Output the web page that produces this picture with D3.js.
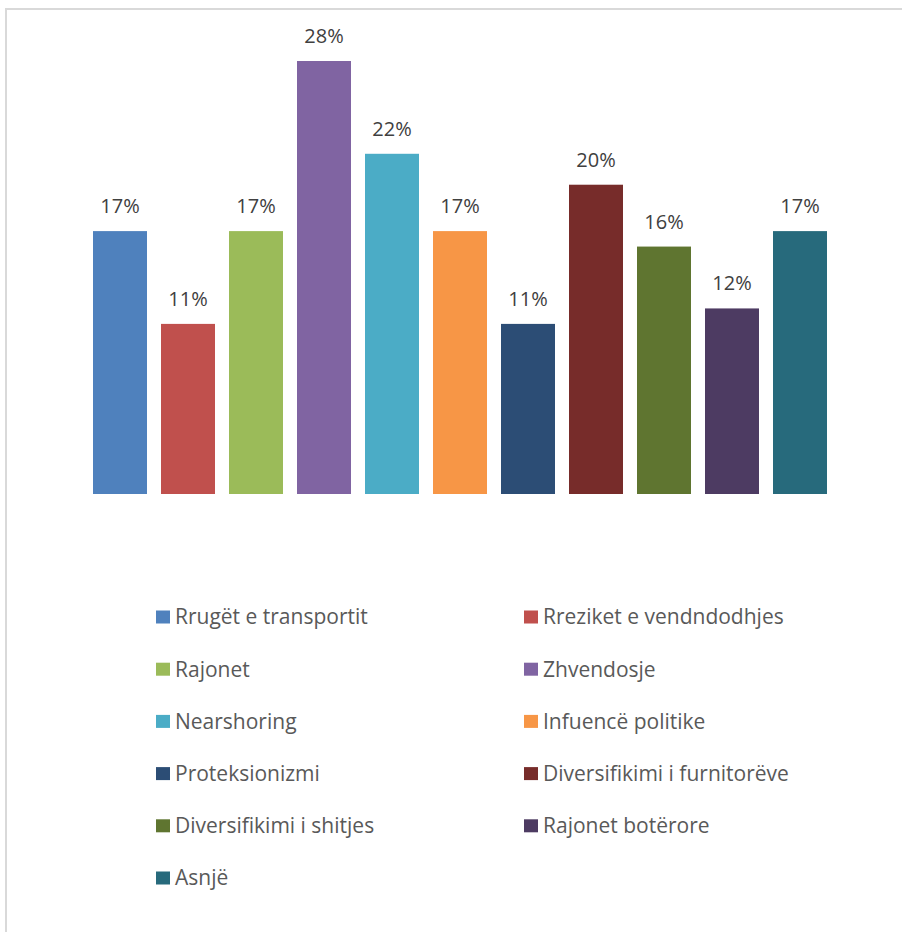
<!DOCTYPE html>
<html><head><meta charset="utf-8">
<script src="https://cdn.jsdelivr.net/npm/d3@7"></script>
<style>html,body{margin:0;padding:0;background:#fff;}svg{display:block;}</style>
</head><body>
<svg id="chart" width="902" height="932"></svg>
<script>
const categories = ["Rrugët e transportit","Rreziket e vendndodhjes","Rajonet","Zhvendosje","Nearshoring","Infuencë politike","Proteksionizmi","Diversifikimi i furnitorëve","Diversifikimi i shitjes","Rajonet botërore","Asnjë"];
const values = [17, 11, 17, 28, 22, 17, 11, 20, 16, 12, 17];
const labels = ["17%","11%","17%","28%","22%","17%","11%","20%","16%","12%","17%"];
const colors = ["#4f81bd","#c0504d","#9bbb59","#8064a2","#4bacc6","#f79646","#2c4d75","#772c2a","#5f7530","#4d3b62","#276a7c"];

const svg = d3.select("#chart");
// outer border
svg.append("rect").attr("x",6).attr("y",9).attr("width",902).attr("height",940)
  .attr("fill","none").attr("stroke","#d9d9d9").attr("stroke-width",2);

const step = 68, bw = 54, x0 = 93 - (step - bw)/2;
const xb = d3.scaleBand().domain(categories).range([x0, x0 + step*categories.length])
  .paddingInner((step-bw)/step).paddingOuter((step-bw)/step/2);
const y = d3.scaleLinear().domain([0, 28]).range([494, 61]);

svg.selectAll("rect.bar").data(categories).join("rect").attr("class","bar")
  .attr("x", d => xb(d)).attr("width", xb.bandwidth())
  .attr("y", (d,i) => y(values[i])).attr("height", (d,i) => y(0) - y(values[i]))
  .attr("fill", (d,i) => colors[i]);

svg.selectAll("text.lbl").data(categories).join("text").attr("class","lbl")
  .attr("x", d => xb(d) + xb.bandwidth()/2)
  .attr("y", (d,i) => y(values[i]) - 18)
  .attr("text-anchor","middle")
  .attr("font-family","'Open Sans', sans-serif").attr("font-size",20)
  .attr("fill","#404040")
  .text((d,i) => labels[i]);

// legend
const lg = svg.append("g");
categories.forEach((c,i) => {
  const col = i % 2, row = Math.floor(i/2);
  const lx = col === 0 ? 156 : 524;
  const cy = 617 + row * 52.2;
  lg.append("rect").attr("x", lx).attr("y", cy - 6.5).attr("width", 14).attr("height", 13).attr("fill", colors[i]);
  lg.append("text").attr("x", lx + 19).attr("y", cy).attr("dy","0.35em")
    .attr("font-family","'Open Sans', sans-serif").attr("font-size",21)
    .attr("fill","#595959").text(c);
});
</script>
</body></html>
